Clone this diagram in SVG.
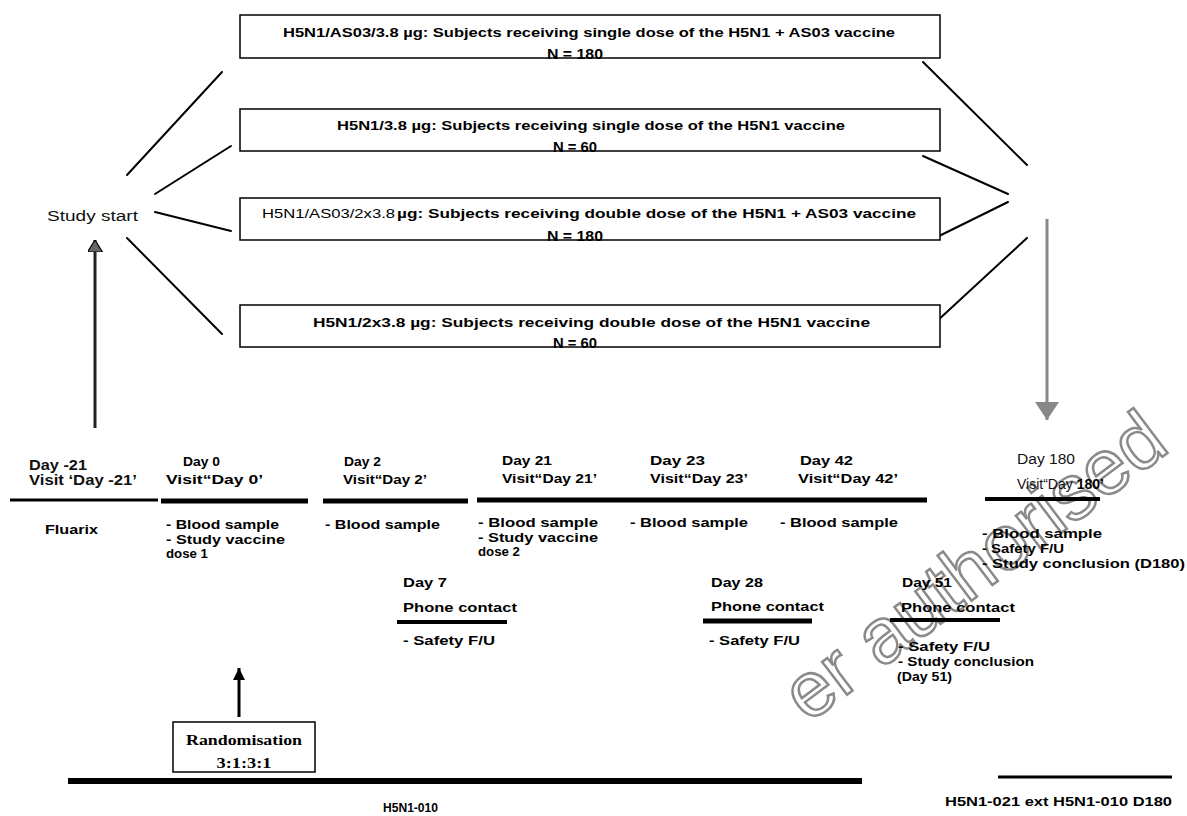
<svg xmlns="http://www.w3.org/2000/svg" width="1187" height="816" viewBox="0 0 1187 816">
<style>
.box{fill:#fff;stroke:#000;stroke-width:1.5}
.b{font-family:"Liberation Sans",Arial,sans-serif;font-weight:bold;font-size:13.5px;fill:#000}
.nlab{font-family:"Liberation Sans",Arial,sans-serif;font-weight:bold;font-size:14.5px;fill:#000}
.n{font-family:"Liberation Sans",Arial,sans-serif;font-size:14px;fill:#111}
.serif{font-family:"Liberation Serif","Times New Roman",serif;font-weight:bold;font-size:15px;fill:#000}
.conn{stroke:#000;stroke-width:2;fill:none;stroke-linecap:round}
.tl{stroke:#000;fill:none}
.wm{font-family:"Liberation Sans",Arial,sans-serif;font-size:78px;fill:none;stroke:#8a8a8a;stroke-width:2.5}
</style>
<defs>
<marker id="ahDark" markerWidth="4" markerHeight="5" refX="4" refY="2.5" orient="auto" markerUnits="strokeWidth"><path d="M0,0 L4,2.5 L0,5 z" fill="#666" stroke="#000" stroke-width="0.4"/></marker>
<marker id="ahBlack" markerWidth="4" markerHeight="4" refX="4" refY="2" orient="auto" markerUnits="strokeWidth"><path d="M0,0 L4,2 L0,4 z" fill="#000"/></marker>
<marker id="ahGray" markerWidth="6" markerHeight="8" refX="6" refY="4" orient="auto" markerUnits="strokeWidth"><path d="M0,0 L6,4 L0,8 z" fill="#888"/></marker>
</defs>
<rect width="1187" height="816" fill="#fff"/>
<g id="watermark">
<text class="wm" transform="translate(808,724) rotate(-37)">er authorised</text>
</g>
<g id="connectors">
<line class="conn" x1="127" y1="175" x2="222" y2="72"/>
<line class="conn" x1="155" y1="194" x2="231" y2="146"/>
<line class="conn" x1="155" y1="212" x2="231" y2="231"/>
<line class="conn" x1="127" y1="238" x2="222" y2="334"/>
<line class="conn" x1="923" y1="62" x2="1027" y2="165"/>
<line class="conn" x1="923" y1="156" x2="1008" y2="194"/>
<line class="conn" x1="933" y1="239" x2="1008" y2="202"/>
<line class="conn" x1="923" y1="334" x2="1027" y2="238"/>
<line x1="95" y1="428" x2="95" y2="240" stroke="#222" stroke-width="3" marker-end="url(#ahDark)"/>
<line x1="1047" y1="219" x2="1047" y2="420" stroke="#888" stroke-width="3" marker-end="url(#ahGray)"/>
<line x1="239" y1="717" x2="239" y2="668" stroke="#000" stroke-width="3" marker-end="url(#ahBlack)"/>
</g>
<g id="arm1">
<rect class="box" x="240" y="15" width="700" height="43"/>
<text class="b" x="283" y="37" textLength="612" lengthAdjust="spacingAndGlyphs">H5N1/AS03/3.8 µg: Subjects receiving single dose of the H5N1 + AS03 vaccine</text>
<text class="nlab" x="575" y="59" text-anchor="middle" textLength="56" lengthAdjust="spacingAndGlyphs">N = 180</text>
</g>
<g id="arm2">
<rect class="box" x="240" y="109" width="700" height="42"/>
<text class="b" x="337" y="130" textLength="508" lengthAdjust="spacingAndGlyphs">H5N1/3.8 µg: Subjects receiving single dose of the H5N1 vaccine</text>
<text class="nlab" x="575" y="152" text-anchor="middle" textLength="44" lengthAdjust="spacingAndGlyphs">N = 60</text>
</g>
<g id="arm3">
<rect class="box" x="240" y="198" width="700" height="42"/>
<text class="b" x="262" y="218"><tspan font-weight="normal" textLength="133" lengthAdjust="spacingAndGlyphs">H5N1/AS03/2x3.8</tspan><tspan x="397" textLength="519" lengthAdjust="spacingAndGlyphs">µg: Subjects receiving double dose of the H5N1 + AS03 vaccine</tspan></text>
<text class="nlab" x="575" y="241" text-anchor="middle" textLength="56" lengthAdjust="spacingAndGlyphs">N = 180</text>
</g>
<g id="arm4">
<rect class="box" x="240" y="305" width="700" height="42"/>
<text class="b" x="313" y="327" textLength="557" lengthAdjust="spacingAndGlyphs">H5N1/2x3.8 µg: Subjects receiving double dose of the H5N1 vaccine</text>
<text class="nlab" x="575" y="348" text-anchor="middle" textLength="44" lengthAdjust="spacingAndGlyphs">N = 60</text>
</g>
<g id="study-start">
<text class="n" x="47" y="221" textLength="91" lengthAdjust="spacingAndGlyphs">Study start</text>
</g>
<g id="day-21">
<text class="n" x="29" y="470" font-weight="bold" fill="#222" textLength="58" lengthAdjust="spacingAndGlyphs">Day -21</text>
<text class="n" x="29" y="485" font-weight="bold" fill="#222" textLength="108" lengthAdjust="spacingAndGlyphs">Visit ‘Day -21’</text>
<line class="tl" x1="10" y1="500" x2="158" y2="500" stroke-width="3"/>
<text class="b" x="45" y="534" textLength="53" lengthAdjust="spacingAndGlyphs">Fluarix</text>
</g>
<g id="day0">
<text class="b" x="183" y="466" textLength="37" lengthAdjust="spacingAndGlyphs">Day 0</text>
<text class="b" x="166" y="484" textLength="97" lengthAdjust="spacingAndGlyphs">Visit“Day 0’</text>
<line class="tl" x1="161" y1="501" x2="308" y2="501" stroke-width="5"/>
<text class="b" x="166" y="529" textLength="113" lengthAdjust="spacingAndGlyphs">- Blood sample</text>
<text class="b" x="166" y="544" textLength="119" lengthAdjust="spacingAndGlyphs">- Study vaccine</text>
<text class="b" x="166" y="558" textLength="42" lengthAdjust="spacingAndGlyphs">dose 1</text>
</g>
<g id="day2">
<text class="b" x="344" y="466" textLength="37" lengthAdjust="spacingAndGlyphs">Day 2</text>
<text class="b" x="343" y="484" textLength="84" lengthAdjust="spacingAndGlyphs">Visit“Day 2’</text>
<line class="tl" x1="323" y1="501" x2="468" y2="501" stroke-width="5"/>
<text class="b" x="325" y="529" textLength="115" lengthAdjust="spacingAndGlyphs">- Blood sample</text>
</g>
<g id="day21-42-line">
<line class="tl" x1="477" y1="500" x2="927" y2="500" stroke-width="5"/>
</g>
<g id="day21">
<text class="b" x="502" y="465" textLength="50" lengthAdjust="spacingAndGlyphs">Day 21</text>
<text class="b" x="502" y="483" textLength="95" lengthAdjust="spacingAndGlyphs">Visit“Day 21’</text>
<text class="b" x="478" y="527" textLength="120" lengthAdjust="spacingAndGlyphs">- Blood sample</text>
<text class="b" x="478" y="542" textLength="120" lengthAdjust="spacingAndGlyphs">- Study vaccine</text>
<text class="b" x="478" y="556" textLength="42" lengthAdjust="spacingAndGlyphs">dose 2</text>
</g>
<g id="day23">
<text class="b" x="650" y="465" textLength="55" lengthAdjust="spacingAndGlyphs">Day 23</text>
<text class="b" x="650" y="483" textLength="98" lengthAdjust="spacingAndGlyphs">Visit“Day 23’</text>
<text class="b" x="630" y="527" textLength="118" lengthAdjust="spacingAndGlyphs">- Blood sample</text>
</g>
<g id="day42">
<text class="b" x="800" y="465" textLength="53" lengthAdjust="spacingAndGlyphs">Day 42</text>
<text class="b" x="798" y="483" textLength="100" lengthAdjust="spacingAndGlyphs">Visit“Day 42’</text>
<text class="b" x="780" y="527" textLength="118" lengthAdjust="spacingAndGlyphs">- Blood sample</text>
</g>
<g id="day180">
<text class="n" x="1017" y="464" fill="#444" textLength="58" lengthAdjust="spacingAndGlyphs">Day 180</text>
<text class="n" x="1017" y="489" fill="#444">Visit“Day <tspan font-weight="bold" fill="#000">180’</tspan></text>
<line class="tl" x1="985" y1="499" x2="1100" y2="499" stroke-width="4"/>
<text class="b" x="982" y="538" textLength="120" lengthAdjust="spacingAndGlyphs">- Blood sample</text>
<text class="b" x="982" y="553" textLength="82" lengthAdjust="spacingAndGlyphs">- Safety F/U</text>
<text class="b" x="982" y="568" textLength="203" lengthAdjust="spacingAndGlyphs">- Study conclusion (D180)</text>
</g>
<g id="day7">
<text class="b" x="403" y="587" textLength="44" lengthAdjust="spacingAndGlyphs">Day 7</text>
<text class="b" x="403" y="612" textLength="114" lengthAdjust="spacingAndGlyphs">Phone contact</text>
<line class="tl" x1="397" y1="622" x2="507" y2="622" stroke-width="4"/>
<text class="b" x="403" y="645" textLength="92" lengthAdjust="spacingAndGlyphs">- Safety F/U</text>
</g>
<g id="day28">
<text class="b" x="711" y="587" textLength="52" lengthAdjust="spacingAndGlyphs">Day 28</text>
<text class="b" x="711" y="611" textLength="113" lengthAdjust="spacingAndGlyphs">Phone contact</text>
<line class="tl" x1="703" y1="621" x2="812" y2="621" stroke-width="5"/>
<text class="b" x="709" y="645" textLength="91" lengthAdjust="spacingAndGlyphs">- Safety F/U</text>
</g>
<g id="day51">
<text class="b" x="902" y="587" textLength="50" lengthAdjust="spacingAndGlyphs">Day 51</text>
<text class="b" x="901" y="612" textLength="114" lengthAdjust="spacingAndGlyphs">Phone contact</text>
<line class="tl" x1="890" y1="620" x2="1000" y2="620" stroke-width="4"/>
<text class="b" x="898" y="651" textLength="92" lengthAdjust="spacingAndGlyphs">- Safety F/U</text>
<text class="b" x="898" y="666" textLength="136" lengthAdjust="spacingAndGlyphs">- Study conclusion</text>
<text class="b" x="897" y="681" textLength="55" lengthAdjust="spacingAndGlyphs">(Day 51)</text>
</g>
<g id="randomisation">
<rect class="box" x="173" y="722" width="142" height="50" stroke-width="1.2"/>
<text class="serif" x="244" y="745" text-anchor="middle" textLength="116" lengthAdjust="spacingAndGlyphs">Randomisation</text>
<text class="serif" x="244" y="768" text-anchor="middle" font-weight="normal" font-size="18" textLength="55" lengthAdjust="spacingAndGlyphs">3:1:3:1</text>
</g>
<g id="study-010">
<line class="tl" x1="68" y1="781" x2="862" y2="781" stroke-width="6"/>
<text class="b" x="383" y="812" font-size="11" textLength="55" lengthAdjust="spacingAndGlyphs">H5N1-010</text>
</g>
<g id="study-021">
<line class="tl" x1="998" y1="777" x2="1172" y2="777" stroke-width="3"/>
<text class="b" x="945" y="806" font-size="11" textLength="227" lengthAdjust="spacingAndGlyphs">H5N1-021 ext H5N1-010 D180</text>
</g>
</svg>
